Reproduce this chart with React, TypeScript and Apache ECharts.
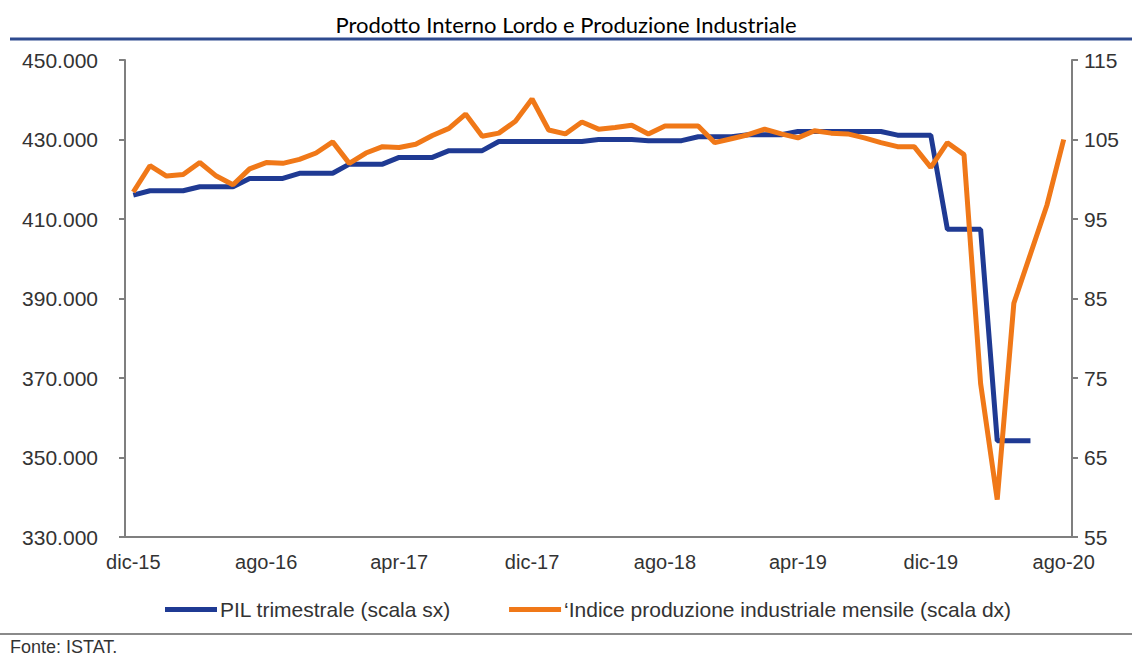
import React, { useEffect, useRef } from "react";
import * as echarts from "echarts";

const monthNames = ["gen", "feb", "mar", "apr", "mag", "giu", "lug", "ago", "set", "ott", "nov", "dic"];
// Dec 2015 .. Aug 2020 (57 months)
const categories: string[] = [];
for (let k = 0; k < 57; k++) {
  const m = (11 + k) % 12;
  const y = 15 + Math.floor((11 + k) / 12);
  categories.push(`${monthNames[m]}-${y}`);
}

const pilTrimestrale = [
  416000,
  417100, 417100, 417100,
  418100, 418100, 418100,
  420200, 420200, 420200,
  421500, 421500, 421500,
  423800, 423800, 423800,
  425500, 425500, 425500,
  427200, 427200, 427200,
  429500, 429500, 429500,
  429500, 429500, 429500,
  430000, 430000, 430000,
  429700, 429700, 429700,
  430700, 430700, 430700,
  431200, 431200, 431200,
  432000, 432000, 432000,
  432000, 432000, 432000,
  431100, 431100, 431100,
  407400, 407400, 407400,
  354200, 354200, 354200,
  null, null,
];

const produzioneIndustriale = [
  98.4, 101.7, 100.4, 100.6, 102.1, 100.4, 99.3, 101.3, 102.1, 102.0,
  102.5, 103.3, 104.7, 102.0, 103.3, 104.1, 104.0, 104.4, 105.5, 106.4,
  108.2, 105.4, 105.8, 107.3, 110.1, 106.2, 105.7, 107.2, 106.3, 106.5,
  106.8, 105.7, 106.7, 106.7, 106.7, 104.6, 105.1, 105.6, 106.3, 105.7,
  105.2, 106.1, 105.8, 105.7, 105.2, 104.6, 104.1, 104.1, 101.5, 104.6,
  103.1, 74.3, 59.7, 84.4, 90.6, 96.8, 105.0,
];

const seriesNames = ["PIL trimestrale (scala sx)", "\u2018Indice produzione industriale mensile (scala dx)"];

const fmtThousands = (v: number) => {
  const s = Math.round(v).toString();
  return s.replace(/\B(?=(\d{3})+(?!\d))/g, ".");
};

export default function App() {
  const ref = useRef<HTMLDivElement>(null);
  useEffect(() => {
    if (!ref.current) return;
    const chart = echarts.init(ref.current, undefined, { renderer: "svg" });
    const axisColor = "#7f7f7f";
    const labelColor = "#333333";
    const font = "Liberation Sans";
    chart.setOption({
      animation: false,
      backgroundColor: "#ffffff",
      title: {
        text: "Prodotto Interno Lordo e Produzione Industriale",
        left: "center",
        top: 8,
        textStyle: { fontFamily: "Lato", fontSize: 22, fontWeight: "normal", color: "#000" },
      },
      graphic: [
        {
          type: "line",
          shape: { x1: 10, y1: 39, x2: 1132, y2: 39 },
          style: { stroke: "#2e4a8f", lineWidth: 3 },
        },
        {
          type: "line",
          shape: { x1: 0, y1: 634, x2: 1132, y2: 634 },
          style: { stroke: "#8a8a8a", lineWidth: 2 },
        },
        {
          type: "text",
          x: 10,
          y: 638,
          style: { text: "Fonte: ISTAT.", fontFamily: font, fontSize: 18, fill: "#333" },
        },
      ],
      legend: {
        left: 160,
        top: 594,
        itemWidth: 52,
        itemHeight: 5,
        itemGap: 58,
        icon: "rect",
        textStyle: { fontFamily: font, fontSize: 21, color: "#333", padding: [0, 0, 0, -2] },
        data: seriesNames,
      },
      grid: { left: 125, top: 60, width: 947, height: 477, containLabel: false },
      xAxis: {
        type: "category",
        data: categories,
        boundaryGap: true,
        axisLine: { lineStyle: { color: axisColor, width: 2 } },
        axisTick: { interval: 7, length: 6, lineStyle: { color: axisColor, width: 2 } },
        axisLabel: { interval: 7, margin: 15, fontFamily: font, fontSize: 20, color: labelColor },
      },
      yAxis: [
        {
          type: "value",
          min: 330000,
          max: 450000,
          interval: 20000,
          position: "left",
          axisLine: { show: true, lineStyle: { color: axisColor, width: 2 } },
          axisTick: { show: true, length: 6, lineStyle: { color: axisColor, width: 2 } },
          axisLabel: { margin: 27, fontFamily: font, fontSize: 21, color: labelColor, formatter: fmtThousands },
          splitLine: { show: false },
        },
        {
          type: "value",
          min: 55,
          max: 115,
          interval: 10,
          position: "right",
          axisLine: { show: true, lineStyle: { color: axisColor, width: 2 } },
          axisTick: { show: true, length: 6, lineStyle: { color: axisColor, width: 2 } },
          axisLabel: { margin: 12, fontFamily: font, fontSize: 21, color: labelColor },
          splitLine: { show: false },
        },
      ],
      series: [
        {
          name: seriesNames[0],
          type: "line",
          yAxisIndex: 0,
          data: pilTrimestrale,
          symbol: "none",
          connectNulls: false,
          itemStyle: { color: "#1f3a93" },
          lineStyle: { color: "#1f3a93", width: 5 },
        },
        {
          name: seriesNames[1],
          type: "line",
          yAxisIndex: 1,
          data: produzioneIndustriale,
          symbol: "none",
          itemStyle: { color: "#f07818" },
          lineStyle: { color: "#f07818", width: 5 },
        },
      ],
    });
    return () => chart.dispose();
  }, []);
  return (
    <div
      ref={ref}
      style={{ position: "absolute", left: 0, top: 0, width: 1132, height: 657 }}
    />
  );
}
